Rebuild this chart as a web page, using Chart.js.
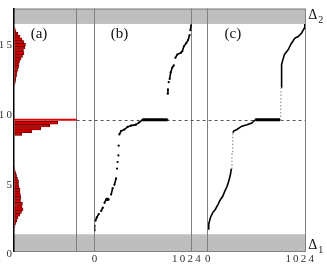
<!DOCTYPE html>
<html>
<head>
<meta charset="utf-8">
<script src="https://cdn.jsdelivr.net/npm/chart.js@4/dist/chart.umd.min.js"></script>
<style>
  html, body { margin: 0; padding: 0; background: #fff; }
</style>
</head>
<body>
<canvas id="chart" width="327" height="271"></canvas>
<script>
'use strict';

// shared value axis
var yMax = 17.4;
var delta1 = 1.2;     // top of the lower band
var delta2 = 16.3;    // bottom of the upper band
var plateau = 9.42;

// (a) histogram of the values, bin centres and counts
var lowBins   = [1.8, 2.0, 2.2, 2.4, 2.6, 2.8, 3.0, 3.2, 3.4, 3.6, 3.8, 4.0, 4.2, 4.4, 4.6, 4.8, 5.0, 5.2, 5.4, 5.6, 5.8, 6.0];
var lowCounts = [1, 2, 3, 4, 6, 7.5, 9, 8, 8.5, 6.5, 7, 6.5, 6, 6, 5, 4.5, 4.5, 3.5, 2.5, 2, 1, 0.5];
var midBins   = [8.4, 8.6, 8.8, 9.0, 9.2];
var midCounts = [8, 18, 27, 36, 44];
var highBins  = [12.0, 12.2, 12.4, 12.6, 12.8, 13.0, 13.2, 13.4, 13.6, 13.8, 14.0, 14.2, 14.4, 14.6, 14.8, 15.0, 15.2, 15.4, 15.6, 15.8, 16.0];
var highCounts = [1, 1.5, 2, 2.5, 3, 4, 4.5, 5, 5.5, 7, 8.5, 10, 9.5, 11, 11.5, 10, 8, 6, 4, 2, 1];
var histMax = 63;
var plateauCount = 63;

// (b) and (c): values against rank, null marks a gap
var rankB  = [0, 0, null, 10, 24, 45, null, 70, 87, null, 105, 122, 149, null, 175, 191, null, 209, 227, null,
              237, null, 243, null, 251, null, 254, null,
              261, 279, 314, 348, 384, 436, 470, 505, 766, null, 769, 772, null, 780, null,
              790, 801, 818, 834, null, 850, 870, 906, 923, 940, 965, 985, 1000, null, 1008, 1016];
var valueB = [1.47, 1.82, null, 2.18, 2.41, 2.65, null, 2.88, 3.11, null, 3.46, 3.70, 3.70, null, 4.05, 4.51, null, 4.75, 5.21, null,
              5.92, null, 6.39, null, 6.86, null, 7.56, null,
              8.37, 8.61, 8.72, 8.91, 9.00, 9.07, 9.24, 9.42, 9.42, null, 11.3, 11.6, null, 12.12, null,
              12.35, 12.82, 13.17, 13.33, null, 13.87, 14.1, 14.22, 14.34, 14.69, 14.93, 15.16, 15.5, null, 15.86, 16.2];
var rankC  = [3, 10, 28, 52, 80, 108, 133, 157, 178, 202, 219, 237, 248, 254, 255, 261, 264, 272, 306, 358, 411, 463, 498,
              760, 766, 768, 770, 776, 805, 846, 875, 916, 951, 985, 1013, 1020];
var valueC = [1.59, 1.94, 2.41, 2.76, 3.0, 3.35, 3.70, 3.93, 4.28, 4.63, 4.98, 5.45, 5.92, 6.62, 6.97, 8.02, 8.49, 8.61, 8.72, 8.96, 9.07, 9.19, 9.42,
              9.42, 9.89, 10.6, 11.77, 13.4, 14.1, 14.46, 14.86, 15.28, 15.39, 15.63, 15.98, 16.3];

var rankTicks = [0, 1024];
var panelNames = ['(a)', '(b)', '(c)'];

var frameColor = '#808080';
var bandColor = '#bebebe';
var serif = '"Liberation Serif", "DejaVu Serif", serif';

var toBars = (bins, counts) => bins.map((b, i) => ({ x: counts[i], y: b }));
var toPoints = (ranks, values) => ranks.map((r, i) => ({ x: r, y: values[i] }));
var spaced = v => String(v).split('').join('\u2009');
// last rank label sits a little left of its tick, as in the original
var rankLabel = v => spaced(v) + (v === rankTicks[rankTicks.length - 1] ? '\u2002\u2002' : '');

var flat = ctx => ctx.p0.parsed.y === ctx.p1.parsed.y;
var steep = ctx => {
    var dx = Math.abs(ctx.p1.x - ctx.p0.x), dy = Math.abs(ctx.p1.y - ctx.p0.y);
    return dy > 8 * dx && dy < 20;
};

var histStyle = {
    type: 'bar',
    indexAxis: 'y',
    xAxisID: 'xa',
    yAxisID: 'y',
    backgroundColor: '#cc0000',
    borderColor: '#2a0000',
    borderWidth: 0.5,
    barPercentage: 1,
    categoryPercentage: 1,
    grouped: false
};

var lineStyle = {
    type: 'line',
    yAxisID: 'y',
    borderColor: '#000',
    borderWidth: 1.6,
    pointRadius: 1.1,
    pointBorderWidth: 0,
    pointBackgroundColor: '#000',
    spanGaps: false,
    tension: 0
};

var rankTicksHook = s => { s.ticks = rankTicks.map(v => ({ value: v })); };
var axisHeight = s => { s.height = 20; };

var rankAxis = weight => ({
    type: 'linear',
    position: 'bottom',
    stack: 'panels',
    stackWeight: weight,
    offset: false,
    min: 0,
    max: 1024,
    afterBuildTicks: rankTicksHook,
    afterFit: axisHeight,
    ticks: { font: { family: serif, size: 11 }, color: '#333', padding: 2, maxRotation: 0, callback: rankLabel },
    grid: { drawTicks: false, color: frameColor },
    border: { color: frameColor }
});

var gapAxis = weight => ({
    type: 'linear',
    position: 'bottom',
    stack: 'panels',
    stackWeight: weight,
    afterFit: axisHeight,
    ticks: { display: false },
    grid: { display: false, drawTicks: false },
    border: { color: frameColor }
});

var framePlugin = {
    id: 'frame',
    beforeDraw: chart => {
        var ctx = chart.ctx, area = chart.chartArea, y = chart.scales.y;
        var b1 = y.getPixelForValue(delta1), b2 = y.getPixelForValue(delta2);
        ctx.save();
        ctx.fillStyle = bandColor;
        ctx.fillRect(area.left, b1, area.right - area.left, area.bottom - b1);
        ctx.fillRect(area.left, area.top, area.right - area.left, b2 - area.top);
        ctx.strokeStyle = frameColor;
        ctx.lineWidth = 1;
        ctx.beginPath();
        ctx.moveTo(area.left, area.top + 0.5);
        ctx.lineTo(area.right, area.top + 0.5);
        ctx.stroke();
        ctx.restore();
    },
    beforeDatasetsDraw: chart => {
        var ctx = chart.ctx, py = Math.round(chart.scales.y.getPixelForValue(plateau)) + 0.5;
        ctx.save();
        ctx.setLineDash([3, 3]);
        ctx.strokeStyle = '#555';
        ctx.lineWidth = 1;
        ctx.beginPath();
        ctx.moveTo(chart.scales.xa.right, py);
        ctx.lineTo(chart.chartArea.right, py);
        ctx.stroke();
        ctx.restore();
    },
    afterDraw: chart => {
        var ctx = chart.ctx, area = chart.chartArea;
        ctx.save();
        ctx.fillStyle = '#111';
        ctx.font = '15px ' + serif;
        ctx.textAlign = 'center';
        ctx.textBaseline = 'middle';
        ['xa', 'xb', 'xc'].forEach((id, i) => {
            ctx.fillText(panelNames[i], chart.scales[id].left + 25, 34);
        });
        ctx.textAlign = 'left';
        ctx.textBaseline = 'alphabetic';
        [['2', 19], ['1', 249]].forEach(d => {
            ctx.font = '14px ' + serif;
            ctx.fillText('\u0394', area.right + 3, d[1]);
            ctx.font = '10px ' + serif;
            ctx.fillText(d[0], area.right + 13, d[1] + 4);
        });
        ctx.restore();
    }
};

var chart = new Chart(document.getElementById('chart'), {
    type: 'scatter',
    data: {
        datasets: [
            Object.assign({ data: toBars(lowBins, lowCounts) }, histStyle),
            Object.assign({ data: toBars(midBins, midCounts) }, histStyle),
            Object.assign({ data: toBars(highBins, highCounts) }, histStyle),
            Object.assign({}, histStyle, { data: [{ x: plateauCount, y: plateau }], backgroundColor: '#e00000', borderWidth: 0, barThickness: 1.5 }),
            Object.assign({
                data: toPoints(rankB, valueB),
                xAxisID: 'xb',
                segment: { borderWidth: ctx => flat(ctx) ? 3.2 : undefined }
            }, lineStyle),
            Object.assign({}, lineStyle, {
                data: toPoints(rankC, valueC),
                xAxisID: 'xc',
                pointRadius: 0,
                segment: {
                    borderWidth: ctx => flat(ctx) ? 3.2 : (steep(ctx) ? 1.1 : undefined),
                    borderColor: ctx => steep(ctx) ? '#8a8a8a' : undefined,
                    borderDash: ctx => steep(ctx) ? [1.5, 2] : undefined
                }
            })
        ]
    },
    options: {
        responsive: false,
        animation: false,
        events: [],
        layout: { padding: { top: 3, right: 20, left: 0, bottom: 0 }, autoPadding: false },
        plugins: { legend: { display: false }, tooltip: { enabled: false } },
        scales: {
            xa: {
                type: 'linear',
                position: 'bottom',
                stack: 'panels',
                stackWeight: 63,
                offset: false,
                min: 0,
                max: histMax,
                afterBuildTicks: s => { s.ticks = [{ value: 0 }, { value: histMax }]; },
                afterFit: axisHeight,
                ticks: { display: false },
                grid: { drawTicks: false, color: ctx => ctx.tick && ctx.tick.value === 0 ? 'rgba(0,0,0,0)' : frameColor },
                border: { color: frameColor }
            },
            g1: gapAxis(18),
            xb: rankAxis(98),
            g2: gapAxis(16),
            xc: rankAxis(98),
            y: {
                type: 'linear',
                position: 'left',
                offset: false,
                min: 0,
                max: yMax,
                afterFit: s => { s.width = 14; },
                ticks: { stepSize: 5, includeBounds: false, labelOffset: 3.5, padding: 2, font: { family: serif, size: 11 }, color: '#333', callback: spaced },
                grid: { display: false, drawTicks: false, offset: false },
                border: { color: '#000', width: 1.5 }
            }
        }
    },
    plugins: [framePlugin]
});
</script>
</body>
</html>
